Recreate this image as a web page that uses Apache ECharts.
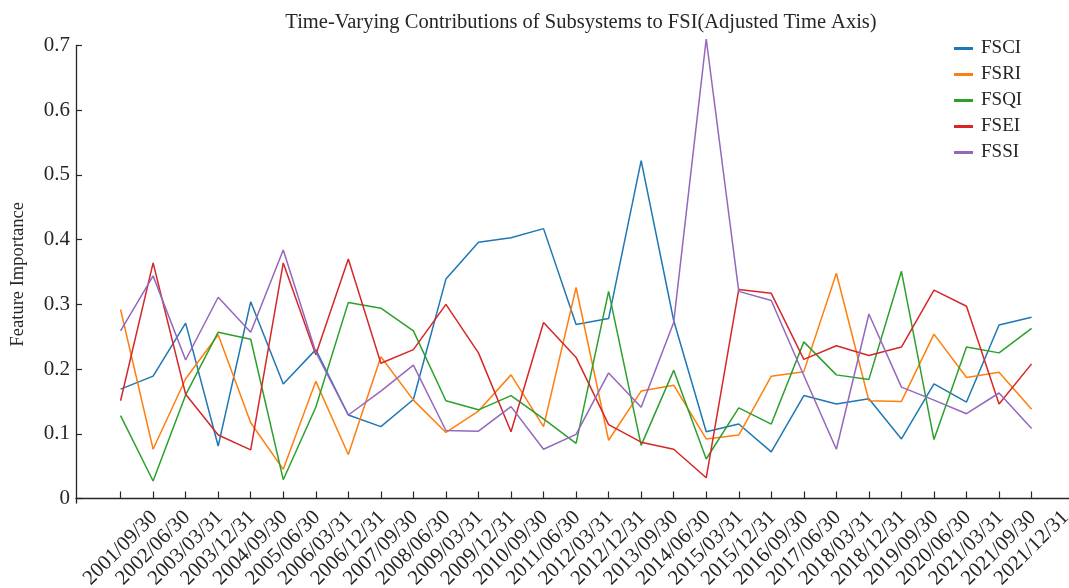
<!DOCTYPE html>
<html>
<head>
<meta charset="utf-8">
<script src="https://cdn.jsdelivr.net/npm/echarts@6/dist/echarts.min.js"></script>
<style>
  html, body { margin: 0; padding: 0; background: #ffffff; }
  #chart { width: 1069px; height: 588px; }
</style>
</head>
<body>
<div id="chart"></div>
<script>
// Quarter-end dates on the adjusted time axis
const dates = [
  '2001/09/30', '2002/06/30', '2003/03/31', '2003/12/31', '2004/09/30',
  '2005/06/30', '2006/03/31', '2006/12/31', '2007/09/30', '2008/06/30',
  '2009/03/31', '2009/12/31', '2010/09/30', '2011/06/30', '2012/03/31',
  '2012/12/31', '2013/09/30', '2014/06/30', '2015/03/31', '2015/12/31',
  '2016/09/30', '2017/06/30', '2018/03/31', '2018/12/31', '2019/09/30',
  '2020/06/30', '2021/03/31', '2021/09/30', '2021/12/31'
];

// Feature importance of each subsystem
const fsci = [0.169, 0.189, 0.271, 0.081, 0.304, 0.177, 0.230, 0.129, 0.111, 0.153,
              0.339, 0.396, 0.403, 0.417, 0.269, 0.278, 0.522, 0.275, 0.103, 0.115,
              0.072, 0.159, 0.146, 0.154, 0.092, 0.177, 0.149, 0.268, 0.280];
const fsri = [0.292, 0.076, 0.185, 0.253, 0.117, 0.045, 0.181, 0.068, 0.219, 0.152,
              0.102, 0.135, 0.191, 0.111, 0.326, 0.090, 0.166, 0.175, 0.092, 0.098,
              0.189, 0.196, 0.348, 0.151, 0.150, 0.254, 0.187, 0.195, 0.138];
const fsqi = [0.128, 0.027, 0.160, 0.257, 0.246, 0.029, 0.141, 0.303, 0.294, 0.259,
              0.151, 0.137, 0.159, 0.123, 0.085, 0.320, 0.082, 0.198, 0.061, 0.140,
              0.115, 0.242, 0.191, 0.184, 0.351, 0.091, 0.234, 0.225, 0.263];
const fsei = [0.151, 0.364, 0.161, 0.098, 0.075, 0.364, 0.222, 0.370, 0.209, 0.230,
              0.300, 0.225, 0.103, 0.272, 0.218, 0.114, 0.087, 0.076, 0.032, 0.323,
              0.317, 0.215, 0.236, 0.221, 0.234, 0.322, 0.297, 0.146, 0.208];
const fssi = [0.259, 0.344, 0.214, 0.311, 0.257, 0.384, 0.226, 0.129, 0.166, 0.206,
              0.105, 0.104, 0.142, 0.076, 0.099, 0.194, 0.141, 0.272, 0.710, 0.320,
              0.306, 0.190, 0.076, 0.285, 0.172, 0.152, 0.131, 0.163, 0.108];

const yTicks = [0, 0.1, 0.2, 0.3, 0.4, 0.5, 0.6, 0.7];

const seriesDefs = [
  { name: 'FSCI', values: fsci, color: '#1f77b4' },
  { name: 'FSRI', values: fsri, color: '#ff7f0e' },
  { name: 'FSQI', values: fsqi, color: '#2ca02c' },
  { name: 'FSEI', values: fsei, color: '#d62728' },
  { name: 'FSSI', values: fssi, color: '#9467bd' }
];

const FONT = '"Liberation Serif", "DejaVu Serif", serif';
const INK = '#262626';
const xIdx = dates.map((d, i) => i);

const chart = echarts.init(document.getElementById('chart'), null, { renderer: 'canvas' });

chart.setOption({
  animation: false,
  backgroundColor: '#ffffff',
  title: {
    text: 'Time-Varying Contributions of Subsystems to FSI(Adjusted Time Axis)',
    left: 576,
    top: 7,
    textAlign: 'center',
    textStyle: { fontFamily: FONT, fontSize: 20.5, fontWeight: 'normal', color: INK }
  },
  legend: {
    orient: 'vertical',
    left: 949,
    top: 34,
    itemWidth: 19,
    itemHeight: 3,
    itemGap: 7,
    icon: 'rect',
    textStyle: { fontFamily: FONT, fontSize: 19, color: INK, padding: [0, 0, 0, 3] },
    data: seriesDefs.map(s => s.name)
  },
  grid: { left: 76, right: 0, top: 45.5, bottom: 85, outerBoundsMode: 'none', containLabel: false },
  xAxis: {
    type: 'value',
    min: -1.37,
    max: 29.15,
    axisLine: { show: true, lineStyle: { color: INK, width: 1.3 } },
    axisTick: { show: true, inside: true, length: 7, customValues: xIdx, lineStyle: { color: INK, width: 1.2 } },
    axisLabel: {
      customValues: xIdx,
      rotate: 45,
      align: 'center',
      verticalAlign: 'middle',
      margin: 45,
      fontFamily: FONT,
      fontSize: 21,
      color: INK,
      formatter: v => dates[Math.round(v)] || ''
    },
    splitLine: { show: false }
  },
  yAxis: {
    type: 'value',
    min: -0.007,
    max: 0.7,
    name: 'Feature Importance',
    nameLocation: 'middle',
    nameGap: 48,
    nameRotate: 90,
    nameTextStyle: { fontFamily: FONT, fontSize: 18.5, color: INK },
    axisLine: { show: true, onZero: false, lineStyle: { color: INK, width: 1.3 } },
    axisTick: { show: true, inside: true, length: 6, customValues: yTicks, lineStyle: { color: INK, width: 1.2 } },
    axisLabel: {
      customValues: yTicks,
      margin: 6,
      fontFamily: FONT,
      fontSize: 21,
      color: INK,
      formatter: v => (v === 0 ? '0' : v.toFixed(1))
    },
    splitLine: { show: false }
  },
  series: seriesDefs.map(s => ({
    name: s.name,
    type: 'line',
    data: s.values.map((v, i) => [i, v]),
    color: s.color,
    showSymbol: false,
    symbol: 'none',
    clip: false,
    lineStyle: { width: 1.5, color: s.color }
  }))
});
</script>
</body>
</html>
